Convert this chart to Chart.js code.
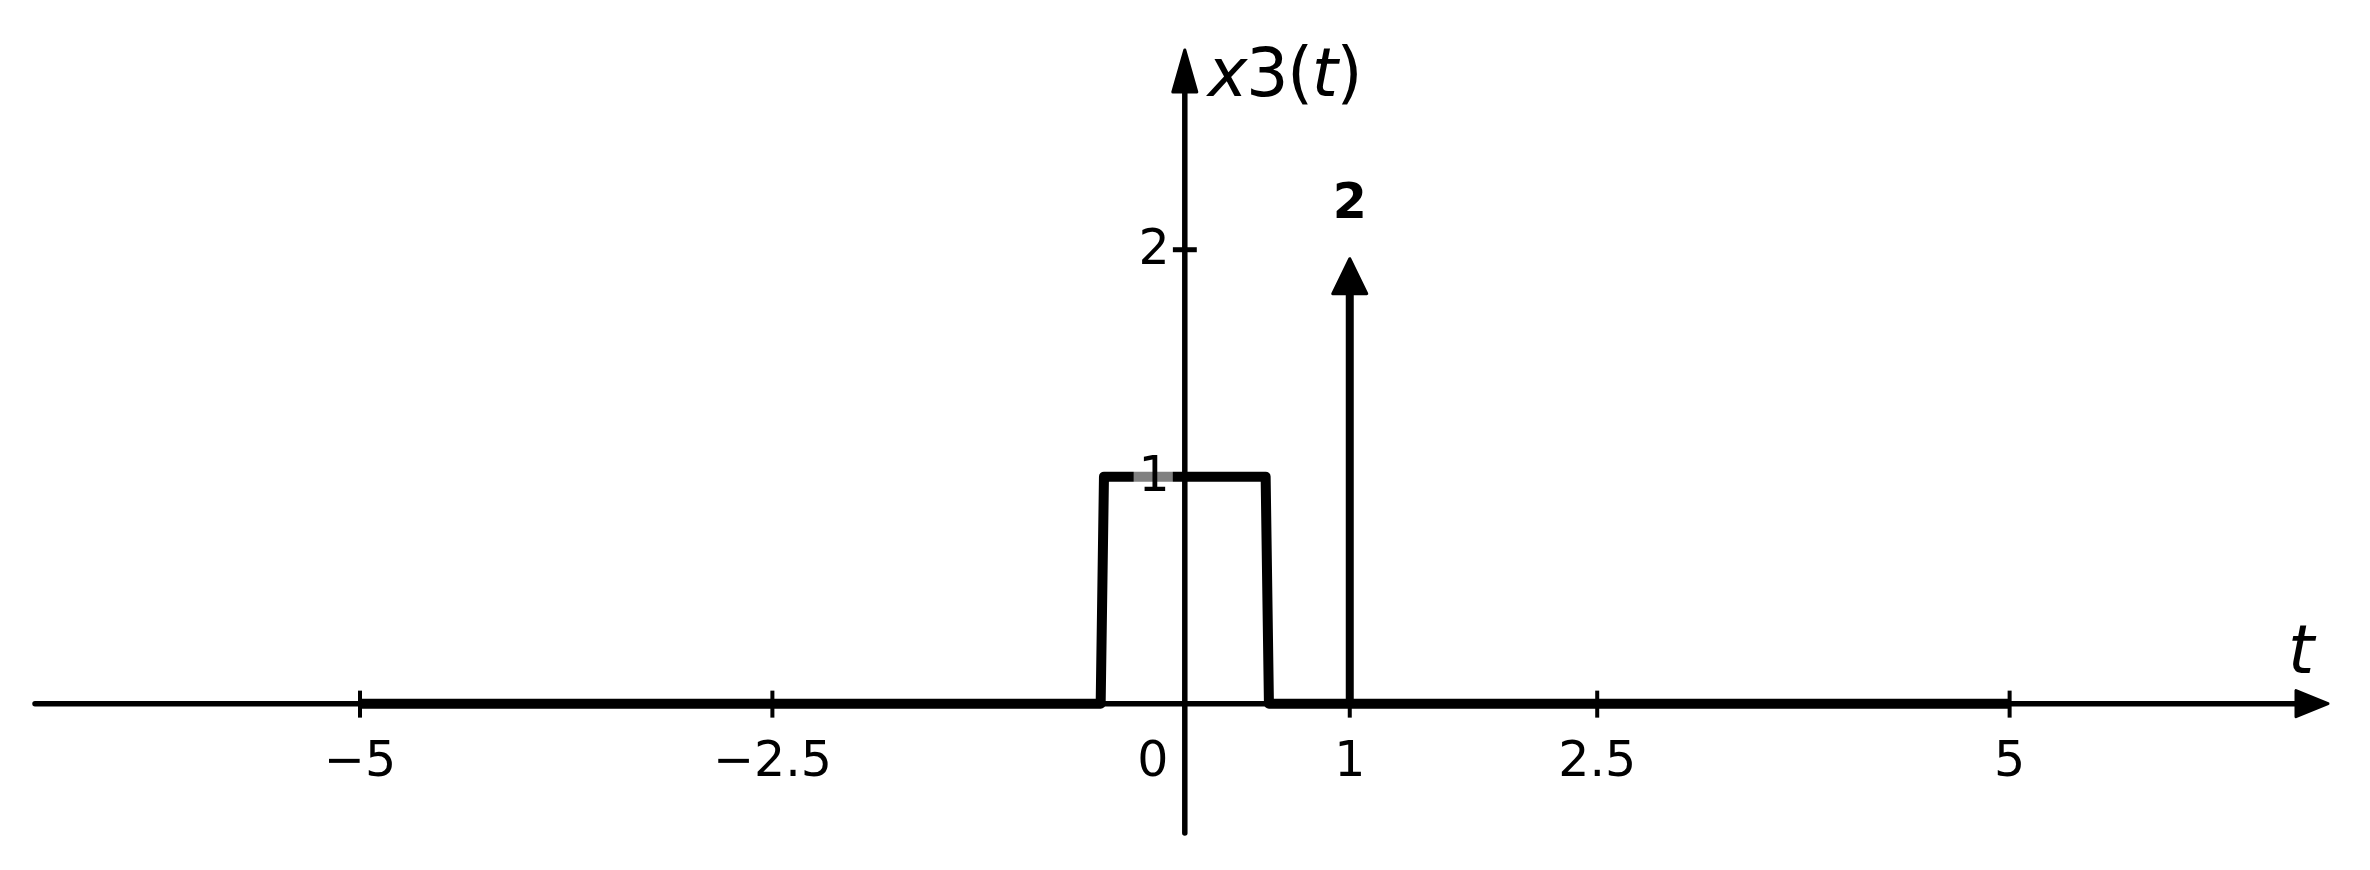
<!DOCTYPE html>
<html><head><meta charset="utf-8">
<script src="https://cdn.jsdelivr.net/npm/chart.js@4/dist/chart.umd.min.js"></script>
<style>html,body{margin:0;padding:0;background:#fff}canvas{display:block}</style>
</head><body>
<canvas id="c" width="2370" height="870"></canvas>
<script>
// ---- data ----
const signalT = [-5, -0.51, -0.49, 0.49, 0.51, 5];
const signalX = [0, 0, 1, 1, 0, 0];
const impulseT = [1];
const impulseArea = [2];
const xTickValues = [-5, -2.5, 0, 1, 2.5, 5];
const xTickLabels = ['\u22125', '\u22122.5', '0', '1', '2.5', '5'];
const yTickValues = [1, 2];
const yTickLabels = ['1', '2'];
const xLimits = [-6.97, 6.93];
const yLimits = [-0.57, 2.88];
const yAxisTitle = [['x', true], ['3', false], ['(', false], ['t', true], [')', false]];
const xAxisTitle = 't';

// ---- style ----
const FONT = '"DejaVu Sans", "Liberation Sans", sans-serif';
const tickFont = '49px ' + FONT;
const titleSize = 67;

function arrowHead(ctx, tipX, tipY, dir, len, half) {
  ctx.beginPath();
  if (dir === 'up') {
    ctx.moveTo(tipX, tipY);
    ctx.lineTo(tipX + half, tipY + len);
    ctx.lineTo(tipX - half, tipY + len);
  } else {
    ctx.moveTo(tipX, tipY);
    ctx.lineTo(tipX - len, tipY - half);
    ctx.lineTo(tipX - len, tipY + half);
  }
  ctx.closePath();
  ctx.lineJoin = 'round';
  ctx.lineWidth = 3;
  ctx.fill();
  ctx.stroke();
}

const IMP_SHRINK = 9, IMP_HEAD_LEN = 35, IMP_HEAD_HALF = 17;

const axesPlugin = {
  id: 'signalAxes',
  beforeDatasetsDraw(chart) {
    const {ctx, chartArea: a, scales: {x, y}} = chart;
    const x0 = x.getPixelForValue(0), y0 = y.getPixelForValue(0);
    ctx.save();
    ctx.strokeStyle = '#000'; ctx.fillStyle = '#000';
    // x axis
    ctx.lineWidth = 5.5; ctx.lineCap = 'round';
    ctx.beginPath(); ctx.moveTo(a.left, y0); ctx.lineTo(a.right - 33, y0); ctx.stroke();
    arrowHead(ctx, a.right, y0, 'right', 32, 13);
    // y axis
    ctx.lineWidth = 5.5; ctx.lineCap = 'round';
    ctx.beginPath(); ctx.moveTo(x0, a.bottom); ctx.lineTo(x0, a.top + 43); ctx.stroke();
    arrowHead(ctx, x0, a.top, 'up', 42, 12);
    // x ticks
    ctx.lineWidth = 4; ctx.lineCap = 'butt';
    xTickValues.forEach(v => {
      const px = x.getPixelForValue(v);
      ctx.beginPath(); ctx.moveTo(px, y0 - 13); ctx.lineTo(px, y0 + 14); ctx.stroke();
    });
    ctx.restore();
  },
  beforeDatasetDraw(chart, args) {
    if (args.index !== 1) return;
    const {ctx, scales: {y}} = chart;
    const ctop = Math.min(...impulseArea.map(v => y.getPixelForValue(v))) + IMP_SHRINK + IMP_HEAD_LEN - 4;
    ctx.save();
    ctx.beginPath(); ctx.rect(0, ctop, chart.width, chart.height); ctx.clip();
  },
  afterDatasetDraw(chart, args) {
    if (args.index !== 1) return;
    chart.ctx.restore();
  },
  afterDatasetsDraw(chart) {
    const {ctx, chartArea: a, scales: {x, y}} = chart;
    const x0 = x.getPixelForValue(0), y0 = y.getPixelForValue(0);
    ctx.save();
    ctx.fillStyle = '#000'; ctx.strokeStyle = '#000';
    // impulse arrow heads and labels
    impulseT.forEach((t, i) => {
      const px = x.getPixelForValue(t), py = y.getPixelForValue(impulseArea[i]);
      arrowHead(ctx, px, py + IMP_SHRINK, 'up', IMP_HEAD_LEN, IMP_HEAD_HALF);
      ctx.font = 'bold 49px ' + FONT;
      ctx.textAlign = 'center'; ctx.textBaseline = 'alphabetic';
      ctx.fillText(String(impulseArea[i]), px, py - 32);
    });
    // y ticks and labels
    ctx.lineWidth = 5; ctx.lineCap = 'butt';
    yTickValues.forEach((v, i) => {
      const py = y.getPixelForValue(v);
      ctx.strokeStyle = '#000';
      ctx.beginPath(); ctx.moveTo(x0 - 12, py); ctx.lineTo(x0 + 12, py); ctx.stroke();
      ctx.font = tickFont;
      const w = ctx.measureText(yTickLabels[i]).width;
      const right = x0 - 15, base = py + 14;
      ctx.fillStyle = 'rgba(255,255,255,0.5)';
      ctx.fillRect(right - w - 5, base - 41, w + 8, 50);
      ctx.fillStyle = '#000';
      ctx.textAlign = 'right'; ctx.textBaseline = 'alphabetic';
      ctx.fillText(yTickLabels[i], right, base);
    });
    // x tick labels
    ctx.font = tickFont; ctx.textAlign = 'center'; ctx.textBaseline = 'alphabetic';
    xTickValues.forEach((v, i) => {
      const px = x.getPixelForValue(v) + (v === 0 ? -32 : 0);
      ctx.fillText(xTickLabels[i], px, y0 + 72);
    });
    // y axis title (mathtext-like)
    let cx = x0 + 23;
    const tb = a.top + 46;
    ctx.textAlign = 'left';
    yAxisTitle.forEach(([s, it]) => {
      ctx.font = (it ? 'italic ' : '') + titleSize + 'px ' + FONT;
      ctx.fillText(s, cx, tb);
      cx += ctx.measureText(s).width - 1.5;
    });
    // x axis title
    ctx.font = 'italic ' + titleSize + 'px ' + FONT;
    ctx.fillText(xAxisTitle, a.right - 40, y0 - 31);
    ctx.restore();
  }
};

new Chart(document.getElementById('c'), {
  type: 'line',
  data: {
    datasets: [
      {
        data: signalT.map((t, i) => ({x: t, y: signalX[i]})),
        borderColor: '#000', borderWidth: 10, borderJoinStyle: 'round', borderCapStyle: 'butt',
        pointRadius: 0, tension: 0, fill: false, clip: false
      },
      {
        data: impulseT.flatMap((t, i) => [{x: t, y: 0}, {x: t, y: impulseArea[i]}]),
        borderColor: '#000', borderWidth: 8, borderCapStyle: 'butt',
        pointRadius: 0, tension: 0, fill: false, clip: false
      }
    ]
  },
  options: {
    responsive: false, animation: false, devicePixelRatio: 1,
    layout: {padding: {left: 35, right: 42, top: 50, bottom: 37}},
    plugins: {legend: {display: false}, tooltip: {enabled: false}},
    events: [],
    scales: {
      x: {type: 'linear', min: xLimits[0], max: xLimits[1], display: false},
      y: {type: 'linear', min: yLimits[0], max: yLimits[1], display: false}
    }
  },
  plugins: [axesPlugin]
});
</script>
</body></html>
